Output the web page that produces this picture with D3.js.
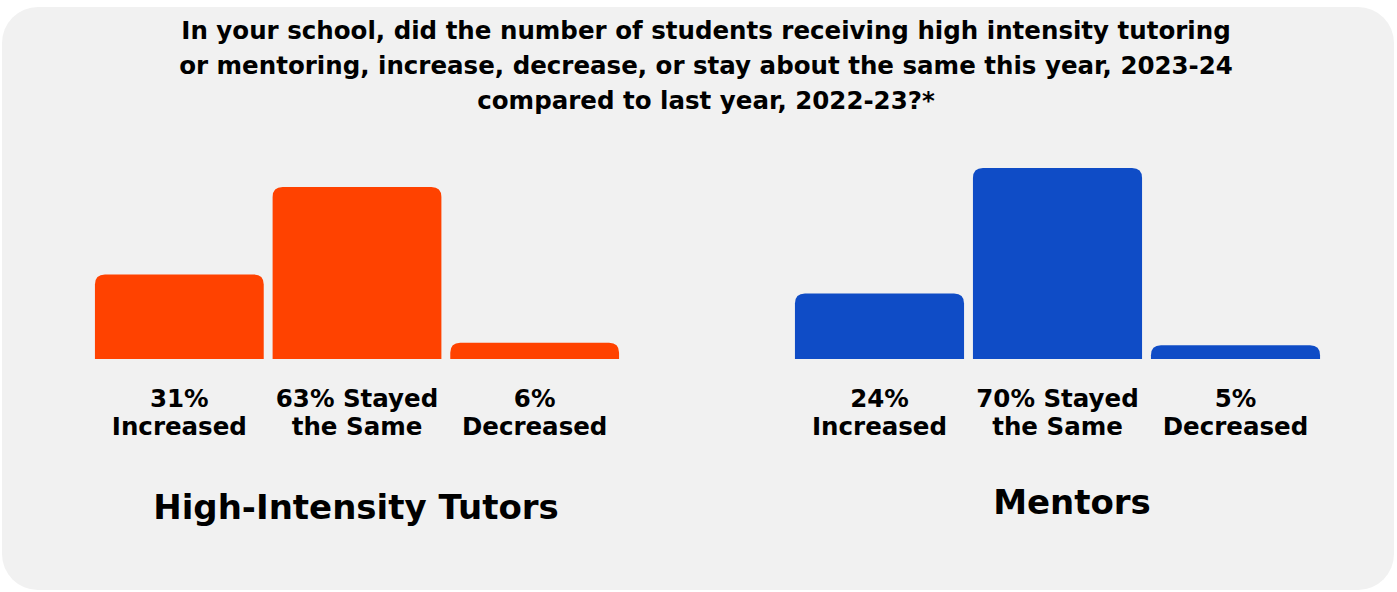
<!DOCTYPE html>
<html>
<head>
<meta charset="utf-8">
<script src="https://cdn.jsdelivr.net/npm/d3@7"></script>
<style>
  html, body { margin: 0; padding: 0; background: #ffffff; }
  svg { display: block; }
  text { font-family: "DejaVu Sans", "Noto Sans", sans-serif; font-weight: 700; fill: #000; }
</style>
</head>
<body>
<svg id="chart" width="1397" height="592"></svg>
<script>
// ---- data ----
const titleLines = [
  "In your school, did the number of students receiving high intensity tutoring",
  "or mentoring, increase, decrease, or stay about the same this year, 2023-24",
  "compared to last year, 2022-23?*"
];
const categories = ["Increased", "Stayed the Same", "Decreased"];
const categoryLabels = [
  ["{v}%", "Increased"],
  ["{v}% Stayed", "the Same"],
  ["{v}%", "Decreased"]
];
const tutorValues = [31, 63, 6];
const mentorValues = [24, 70, 5];
const groupNames = ["High-Intensity Tutors", "Mentors"];
const groupColors = ["#FF4200", "#0F4CC6"];

// ---- layout ----
const svg = d3.select("#chart");

// background panel
svg.append("rect")
  .attr("x", 2).attr("y", 7)
  .attr("width", 1392).attr("height", 583)
  .attr("rx", 36).attr("ry", 36)
  .attr("fill", "#F1F1F1");

// title
titleLines.forEach((t, i) => {
  svg.append("text")
    .attr("text-anchor", "middle")
    .attr("font-size", 24.5)
    .attr("x", 706)
    .attr("y", 39 + i * 35)
    .text(t);
});

const baseline = 359;
const y = d3.scaleLinear().domain([0, 70]).range([baseline, 168]);

const groups = [
  { name: groupNames[0], values: tutorValues, color: groupColors[0], range: [90.5, 623.5], titleX: 356, titleY: 519 },
  { name: groupNames[1], values: mentorValues, color: groupColors[1], range: [790.5, 1324.5], titleX: 1072, titleY: 514 }
];

function topRoundedBar(x0, x1, yTop, yBase, r) {
  const rr = Math.min(r, (yBase - yTop), (x1 - x0) / 2);
  return `M${x0},${yBase}V${yTop + rr}Q${x0},${yTop} ${x0 + rr},${yTop}H${x1 - rr}Q${x1},${yTop} ${x1},${yTop + rr}V${yBase}Z`;
}

groups.forEach(g => {
  const x = d3.scaleBand().domain(categories).range(g.range).paddingInner(0.05).paddingOuter(0.025);
  const data = categories.map((c, i) => ({ c, v: g.values[i], lab: categoryLabels[i] }));
  const gg = svg.append("g");

  gg.selectAll("path.bar").data(data).join("path")
    .attr("class", "bar")
    .attr("fill", g.color)
    .attr("d", d => topRoundedBar(x(d.c), x(d.c) + x.bandwidth(), y(d.v), y(0), 10));

  data.forEach(d => {
    const cx = x(d.c) + x.bandwidth() / 2;
    d.lab.forEach((line, j) => {
      gg.append("text")
        .attr("text-anchor", "middle")
        .attr("font-size", 24.5)
        .attr("x", cx)
        .attr("y", 407 + j * 28)
        .text(line.replace("{v}", d.v));
    });
  });

  gg.append("text")
    .attr("text-anchor", "middle")
    .attr("x", g.titleX)
    .attr("y", g.titleY)
    .attr("font-size", 34)
    .text(g.name);
});
</script>
</body>
</html>
